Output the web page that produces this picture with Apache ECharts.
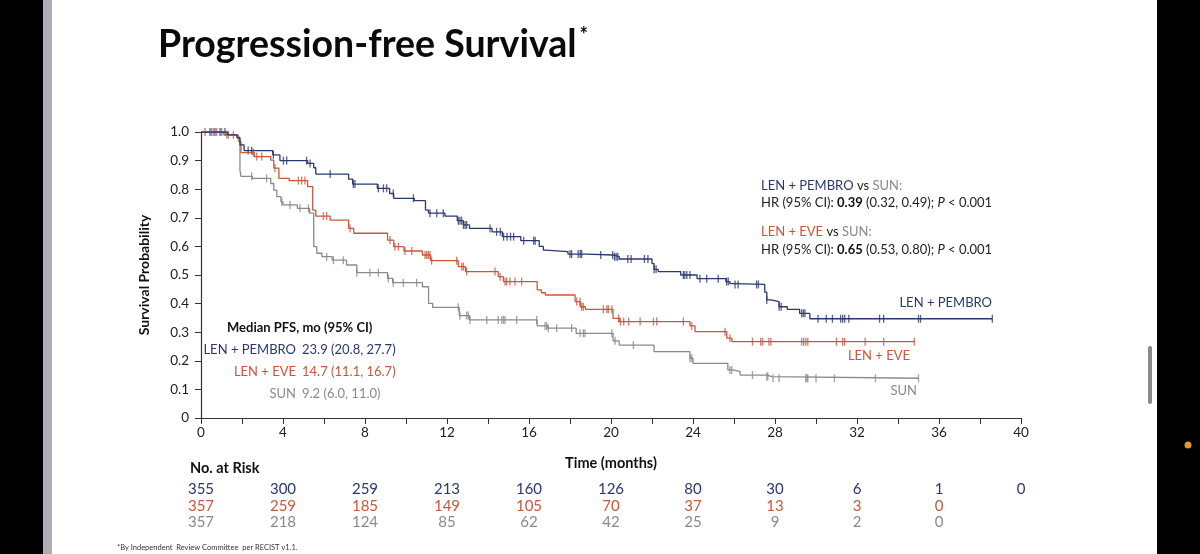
<!DOCTYPE html>
<html>
<head>
<meta charset="utf-8">
<script src="https://cdn.jsdelivr.net/npm/echarts@6/dist/echarts.min.js"></script>
<style>
  html, body { margin: 0; padding: 0; background: #fff; }
  #main { width: 1200px; height: 554px; }
</style>
</head>
<body>
<div id="main"></div>
<script>
// KM steps: [time (months), survival after that time]
const pembroSteps = [[0,1],[1.3,0.99],[1.75,0.98],[1.9,0.955],[2.1,0.935],[3.5,0.92],[3.85,0.9],[5.2,0.89],[5.5,0.875],[5.6,0.853],[7.2,0.835],[7.4,0.818],[8.6,0.803],[9.2,0.785],[9.4,0.768],[10.4,0.76],[10.95,0.727],[11.1,0.716],[11.9,0.706],[12.5,0.69],[12.8,0.675],[13.1,0.663],[14.2,0.651],[14.7,0.634],[15.6,0.62],[16.5,0.6],[16.7,0.587],[16.8,0.582],[17.9,0.573],[18.8,0.57],[20.1,0.564],[20.4,0.556],[22.0,0.54],[22.1,0.52],[22.3,0.512],[23.4,0.5],[24.2,0.487],[25.6,0.477],[25.8,0.47],[26.0,0.467],[27.5,0.44],[27.6,0.413],[27.8,0.407],[28.2,0.389],[28.6,0.38],[29.2,0.366],[29.7,0.347],[38.6,0.347]];
const eveSteps = [[0,1],[1.2,0.99],[1.75,0.984],[1.85,0.966],[1.95,0.928],[2.6,0.914],[3.4,0.902],[3.55,0.874],[3.8,0.838],[4.3,0.83],[5.2,0.809],[5.45,0.727],[5.6,0.706],[6.3,0.692],[7.2,0.663],[7.45,0.646],[9.1,0.622],[9.4,0.599],[9.9,0.584],[10.8,0.57],[11.2,0.55],[12.55,0.529],[12.9,0.512],[14.5,0.494],[14.75,0.477],[16.4,0.448],[16.6,0.438],[16.8,0.43],[18.25,0.407],[18.5,0.389],[18.75,0.38],[20.1,0.348],[20.4,0.337],[23.85,0.322],[24.1,0.302],[25.65,0.279],[25.9,0.267],[34.8,0.267]];
const sunSteps = [[0,1],[1.1,0.99],[1.8,0.976],[1.9,0.867],[1.95,0.845],[2.5,0.838],[3.4,0.82],[3.55,0.797],[3.7,0.774],[3.9,0.756],[4.0,0.745],[4.7,0.733],[5.3,0.716],[5.5,0.599],[5.65,0.576],[5.9,0.564],[6.4,0.552],[7.1,0.535],[7.6,0.508],[9.1,0.488],[9.35,0.473],[10.8,0.459],[11.1,0.401],[11.3,0.387],[12.6,0.358],[13.1,0.343],[16.4,0.322],[16.9,0.314],[18.3,0.296],[20.1,0.27],[20.4,0.255],[22.1,0.232],[23.85,0.209],[24.0,0.191],[25.7,0.168],[25.95,0.162],[26.3,0.15],[27.6,0.145],[27.85,0.139],[35.0,0.139]];

// censor times
const pembroCens = [0.44,0.68,0.93,1.17,2.3,2.47,3.53,4.02,4.18,5.15,5.32,6.3,7.43,7.51,8.65,8.9,9.06,9.38,10.36,11.17,11.5,11.82,12.55,12.63,12.71,12.8,12.88,12.96,14.1,14.42,14.6,14.76,14.93,15.1,15.25,15.74,16.23,16.3,18.0,18.08,18.4,18.5,18.57,19.5,20.08,20.17,20.25,20.33,20.82,20.98,21.63,21.8,22.1,22.2,23.53,23.6,23.7,23.85,24.34,24.67,25.23,25.64,25.72,26.05,26.2,27.1,27.19,27.6,28.2,28.3,29.3,29.38,29.46,30.1,30.5,30.8,31.2,31.3,31.4,31.6,33.1,33.3,35.0,35.1,38.6];
const eveCens = [0.2,0.52,0.77,1.01,1.33,1.58,2.55,2.72,2.96,3.61,4.75,4.91,5.07,5.97,6.13,7.27,9.22,9.46,9.63,9.95,10.28,10.93,11.01,11.09,11.17,11.25,12.47,12.72,12.8,12.96,14.34,14.59,14.83,14.91,15.07,15.32,15.64,18.33,18.49,18.57,18.65,19.63,19.8,19.87,20.04,20.37,20.46,20.62,20.86,21.42,22.07,22.23,23.53,23.94,25.56,25.8,26.9,27.3,27.4,27.7,27.8,29.3,29.4,29.5,29.6,31.0,31.3,31.4,32.4,33.3,34.8];
const sunCens = [0.6,1.25,2.47,3.2,3.94,4.34,4.83,5.24,6.13,6.46,6.94,7.6,8.24,8.65,9.14,9.38,9.87,10.52,12.55,12.63,12.96,13.04,13.12,13.94,14.5,14.67,14.76,14.83,15.4,16.37,16.78,16.86,16.94,17.35,18.08,18.49,18.65,18.73,20.04,20.2,21.09,23.85,23.94,25.8,25.89,26.9,27.6,27.65,27.9,28.2,29.5,29.55,29.6,30.0,30.9,32.9,35.0];

// number at risk
const riskTimes = [0,4,8,12,16,20,24,28,32,36,40];
const riskPembro = [355,300,259,213,160,126,80,30,6,1,0];
const riskEve = [357,259,185,149,105,70,37,13,3,0];
const riskSun = [357,218,124,85,62,42,25,9,2,0];

const NAVY = '#2b3870', RED = '#c8583c', GREY = '#8a8a8a';
const FONT = 'Lato, "Open Sans", sans-serif';

function survAt(steps, t) {
  let s = steps[0][1];
  for (const p of steps) { if (p[0] <= t) s = p[1]; else break; }
  return s;
}
function censData(steps, times) {
  return times.map(t => [t, survAt(steps, t)]);
}
function kmSeries(name, steps, color) {
  return {
    name: name, type: 'line', step: 'end', data: steps,
    showSymbol: false, silent: true,
    lineStyle: { color: color, width: 1.3 }
  };
}
function censSeries(name, steps, times, color) {
  return {
    name: name, type: 'scatter', data: censData(steps, times),
    symbol: 'rect', symbolSize: [1.3, 8], silent: true,
    itemStyle: { color: color }
  };
}

const myChart = echarts.init(document.getElementById('main'));
myChart.setOption({
  animation: false,
  backgroundColor: '#fff',
  title: {
    text: '{a|Progression-free Survival}{b|*}',
    left: 153, top: 21,
    textStyle: {
      rich: {
        a: { fontFamily: FONT, fontSize: 37.5, fontWeight: 'bold', color: '#0a0a0a' },
        b: { fontFamily: FONT, fontSize: 20, fontWeight: 'bold', color: '#0a0a0a', verticalAlign: 'top', padding: [0, 0, 14, 3] }
      }
    }
  },
  grid: { left: 201, right: 179, top: 132, bottom: 136 },
  xAxis: {
    type: 'value', min: 0, max: 40, interval: 2,
    name: 'Time (months)', nameLocation: 'middle', nameGap: 38,
    nameTextStyle: { fontFamily: FONT, fontSize: 14.5, fontWeight: 'bold', color: '#111' },
    axisLine: { lineStyle: { color: '#333', width: 1.2 } },
    axisTick: { length: 6, lineStyle: { color: '#333' } },
    axisLabel: {
      fontFamily: FONT, fontSize: 13.5, color: '#222', margin: 8,
      formatter: v => (v % 4 === 0 ? String(v) : '')
    },
    splitLine: { show: false }
  },
  yAxis: {
    type: 'value', min: 0, max: 1, interval: 0.1,
    name: 'Survival Probability', nameLocation: 'middle', nameGap: 50, nameRotate: 90,
    nameTextStyle: { fontFamily: FONT, fontSize: 14, fontWeight: 'bold', color: '#111' },
    axisLine: { show: true, lineStyle: { color: '#333', width: 1.2 } },
    axisTick: { show: true, length: 6, lineStyle: { color: '#333' } },
    axisLabel: {
      fontFamily: FONT, fontSize: 13.5, color: '#222', margin: 12,
      formatter: v => (v === 0 ? '0' : v.toFixed(1))
    },
    splitLine: { show: false }
  },
  series: [
    kmSeries('SUN', sunSteps, GREY),
    kmSeries('LEN + EVE', eveSteps, RED),
    kmSeries('LEN + PEMBRO', pembroSteps, NAVY),
    censSeries('SUN cens', sunSteps, sunCens, GREY),
    censSeries('EVE cens', eveSteps, eveCens, RED),
    censSeries('PEMBRO cens', pembroSteps, pembroCens, NAVY)
  ]
});

// texts and frame
const txt = (x, y, text, extra) => ({
  type: 'text', x: x, y: y, silent: true,
  style: Object.assign({ text: text, fontFamily: FONT, fontSize: 13, fill: '#222', textVerticalAlign: 'middle' }, extra || {})
});
const richStyles = {
  n: { fontFamily: FONT, fontSize: 13, fill: NAVY },
  r: { fontFamily: FONT, fontSize: 13, fill: RED },
  g: { fontFamily: FONT, fontSize: 13, fill: GREY },
  k: { fontFamily: FONT, fontSize: 13, fill: '#222' },
  b: { fontFamily: FONT, fontSize: 13, fill: '#111', fontWeight: 'bold' },
  i: { fontFamily: FONT, fontSize: 13, fill: '#222', fontStyle: 'italic' }
};
const richTxt = (x, y, text) => ({
  type: 'text', x: x, y: y, silent: true,
  style: { text: text, rich: richStyles, fontFamily: FONT, fontSize: 13, textVerticalAlign: 'middle' }
});

const graphics = [
  { type: 'rect', shape: { x: 0, y: 0, width: 43, height: 554 }, style: { fill: '#000' }, silent: true },
  { type: 'rect', shape: { x: 43, y: 0, width: 9, height: 554 }, style: { fill: '#abafb8' }, silent: true },
  { type: 'rect', shape: { x: 1157, y: 0, width: 43, height: 554 }, style: { fill: '#000' }, silent: true },
  { type: 'rect', shape: { x: 1148, y: 346, width: 4, height: 58, r: 2 }, style: { fill: '#8a8a8a' }, silent: true },
  { type: 'circle', shape: { cx: 1188, cy: 445, r: 3.5 }, style: { fill: '#e3952f' }, silent: true },

  richTxt(761, 186, '{n|LEN + PEMBRO} {k|vs} {g|SUN:}'),
  richTxt(761, 203, '{k|HR (95% CI): }{b|0.39}{k| (0.32, 0.49); }{i|P}{k| < 0.001}'),
  richTxt(761, 232, '{r|LEN + EVE} {k|vs} {g|SUN:}'),
  richTxt(761, 250, '{k|HR (95% CI): }{b|0.65}{k| (0.53, 0.80); }{i|P}{k| < 0.001}'),

  txt(992, 303, 'LEN + PEMBRO', { fill: NAVY, textAlign: 'right' }),
  txt(910, 356, 'LEN + EVE', { fill: RED, textAlign: 'right' }),
  txt(917, 391, 'SUN', { fill: GREY, textAlign: 'right' }),

  txt(227, 328, 'Median PFS, mo (95% CI)', { fontWeight: 'bold', fill: '#111' }),
  txt(296, 350, 'LEN + PEMBRO', { fill: NAVY, textAlign: 'right' }),
  txt(302, 350, '23.9 (20.8, 27.7)', { fill: NAVY }),
  txt(296, 372, 'LEN + EVE', { fill: RED, textAlign: 'right' }),
  txt(302, 372, '14.7 (11.1, 16.7)', { fill: RED }),
  txt(296, 394, 'SUN', { fill: GREY, textAlign: 'right' }),
  txt(302, 394, '9.2 (6.0, 11.0)', { fill: GREY }),

  txt(190, 468, 'No. at Risk', { fontWeight: 'bold', fill: '#111', fontSize: 14.5 }),
  {
    type: 'text', x: 117, y: 548, silent: true,
    style: { text: '*By Independent  Review Committee  per RECIST v1.1.', fontFamily: FONT, fontSize: 7.5, fill: '#333', textVerticalAlign: 'middle' }
  }
];

const rows = [[riskPembro, NAVY, 489], [riskEve, RED, 506], [riskSun, GREY, 522]];
rows.forEach(([vals, color, y]) => {
  vals.forEach((v, i) => {
    const x = myChart.convertToPixel({ xAxisIndex: 0 }, riskTimes[i]);
    graphics.push(txt(x, y, String(v), { fill: color, textAlign: 'center', fontSize: 15 }));
  });
});

myChart.setOption({ graphic: graphics });
</script>
</body>
</html>
